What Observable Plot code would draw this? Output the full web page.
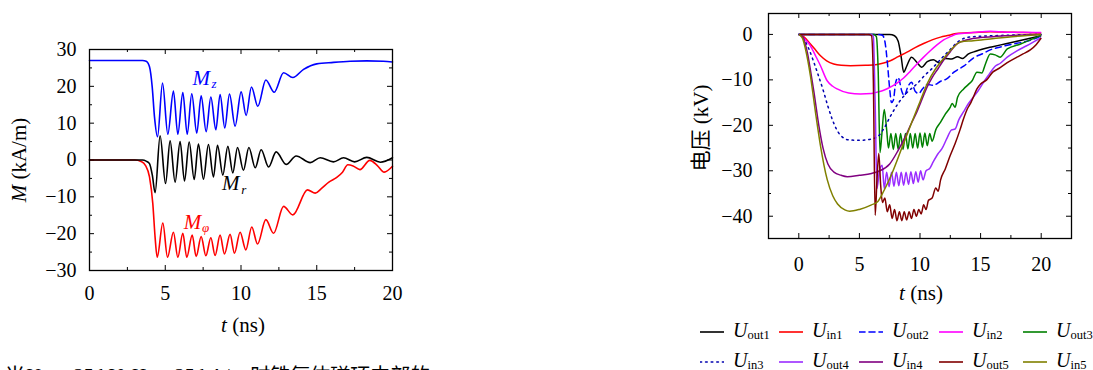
<!DOCTYPE html>
<html><head><meta charset="utf-8">
<script src="https://cdn.jsdelivr.net/npm/d3@7"></script>
<script src="https://cdn.jsdelivr.net/npm/@observablehq/plot@0.6"></script>
<style>
html,body{margin:0;padding:0;background:#fff;}
body{width:1093px;height:370px;overflow:hidden;position:relative;font-family:"Liberation Serif","DejaVu Serif",serif;color:#000;}
.abs{position:absolute;}
.lab{position:absolute;white-space:nowrap;font-size:21px;line-height:22px;}
.rot{transform:translate(-50%,-50%) rotate(-90deg);}
.ctr{transform:translate(-50%,-50%);}
.cjk{font-family:"Noto Sans CJK SC",sans-serif;}
.leg{position:absolute;white-space:nowrap;font-size:20px;line-height:22px;display:flex;align-items:center;}
.leg svg{margin-right:9px;}
.leg sub{font-size:12.5px;font-style:normal;position:relative;top:2px;vertical-align:baseline;}
</style></head><body>
<div id="left" class="abs" style="left:0;top:0"></div>
<div id="right" class="abs" style="left:690px;top:0"></div>
<div class="lab rot" style="left:19px;top:160px"><i>M</i> (kA/m)</div>
<div class="lab ctr" style="left:243px;top:325px"><i>t</i> (ns)</div>
<div class="lab rot" style="left:700px;top:128px"><span class="cjk">电压</span> (kV)</div>
<div class="lab ctr" style="left:921px;top:293px"><i>t</i> (ns)</div>
<div class="lab" style="left:5px;top:364px;font-size:20px"><span class="cjk">当</span><i>U</i><sub>in</sub> = 25 kV, <i>H</i><sub>0</sub> = 25 kA/m <span class="cjk">时铁氧体磁环中部的</span></div>
<div id="legend"></div>
<script>
// ---------------- Left chart data: M (kA/m) vs t (ns) ----------------
const Mz = [[0,27],[3.5,27],[3.74,26.8],[3.96,25.3],[4.14,19.8],[4.29,11.7],[4.49,6.3],
 [4.82,20.9],[5.17,7.0],[5.54,18.7],[5.83,7.0],[6.16,18.3],[6.45,7.0],[6.75,18.0],[7.08,7.3],
 [7.37,17.4],[7.70,7.7],[8.01,17.1],[8.34,8.2],[8.62,17.8],[8.93,8.7],[9.24,17.9],[9.61,9.2],
 [10.01,18.5],[10.34,12.1],[10.69,19.8],[11.11,14.6],[11.64,21.7],[12.19,18.4],[12.81,23.7],
 [13.42,22.4],[14.13,24.6],[15.0,26.1],[16.1,26.5],[17.2,26.8],[18.3,26.9],[19.4,26.8],[20,26.6]];
const Mr = [[0,0],[3.5,0],[3.74,-0.3],[3.96,-1.0],[4.15,-4.2],[4.33,-8.9],
 [4.66,6.6],[5.02,-6.4],[5.32,5.2],[5.65,-6.0],[5.98,5.0],[6.27,-5.7],[6.58,4.9],[6.91,-5.3],
 [7.19,4.3],[7.52,-5.2],[7.85,4.2],[8.18,-4.6],[8.45,4.0],[8.80,-4.1],[9.13,3.7],[9.46,-3.5],
 [9.77,3.4],[10.16,-2.8],[10.52,3.4],[10.94,-2.1],[11.33,2.8],[11.82,-1.9],[12.32,2.2],
 [12.98,-1.2],[13.64,1.1],[14.57,-0.7],[15.23,0.6],[16.1,-0.5],[16.77,0.6],[17.5,-0.5],
 [18.3,0.7],[19.2,-0.6],[20,0.6]];
const Mphi = [[0,0],[3.0,0],[3.4,-0.4],[3.7,-1.5],[3.96,-4.6],[4.18,-11.9],[4.33,-21],[4.47,-26.4],
 [4.84,-17.1],[5.15,-26.4],[5.54,-19.6],[5.83,-26.4],[6.16,-19.9],[6.42,-26.4],[6.78,-20.4],
 [7.04,-26.2],[7.37,-20.8],[7.68,-26.0],[8.01,-21.1],[8.29,-25.9],[8.62,-20.4],[8.91,-25.5],
 [9.28,-20.2],[9.57,-25.3],[9.94,-19.6],[10.32,-24.4],[10.71,-18.2],[11.09,-22.8],[11.64,-16.2],
 [12.15,-19.9],[12.81,-12.6],[13.42,-14.9],[14.39,-8.1],[14.9,-9.0],[15.3,-7.8],[15.8,-6.0],
 [16.3,-4.8],[16.7,-3.3],[17.05,-1.3],[17.4,-1.6],[17.85,-2.6],[18.5,-0.1],[19.0,-1.5],[19.45,-3.3],[20,-1.7]];
const mLabelT = [7.37, 9.33, 6.8];
const mLabelV = [22.3, -6.4, -16.8];
const mLabelSub = ["z", "r", "φ"];
const mLabelColor = ["#0000ff", "#000000", "#ff0000"];
const leftXTicks = [0, 5, 10, 15, 20];
const leftYTicks = [-30, -20, -10, 0, 10, 20, 30];

// ---------------- Right chart data: voltage (kV) vs t (ns) ----------------
const Uout1 = [[0,0],[7.5,0],[7.9,-0.3],[8.2,-1.5],[8.45,-5],[8.65,-8.3],[8.9,-7],[9.3,-5.0],[9.7,-6],
 [10.15,-7.2],[10.6,-6.0],[11.1,-5.6],[11.6,-6.3],[12.1,-5.3],[12.6,-5.4],[13.1,-4.9],[13.5,-5.3],
 [14.0,-4.3],[14.6,-3.7],[15.2,-3.2],[16,-2.7],[17,-2.1],[18,-1.5],[19,-0.9],[20,-0.3]];
const Uin1 = [[0,0],[0.4,-0.5],[0.96,-2.1],[1.4,-3.5],[1.79,-4.7],[2.3,-5.8],[2.88,-6.5],[3.5,-6.8],
 [4.26,-6.9],[5.5,-6.8],[6.46,-6.6],[7.0,-6.3],[7.55,-5.8],[8.2,-4.9],[8.93,-3.9],[9.6,-2.9],
 [10.3,-2.0],[11.0,-1.2],[11.7,-0.6],[12.4,-0.2],[13.0,0.2],[14.4,0.4],[15.8,0.6],[17.2,0.5],[18.5,0.4],[20,0.3]];
const Uout2 = [[0,0],[6.5,0],[6.9,-0.2],[7.1,-1.5],[7.3,-6],[7.5,-12],[7.65,-15],[7.8,-14.5],[8.0,-10.5],
 [8.2,-9.5],[8.5,-12.5],[8.7,-13.5],[9.0,-11.5],[9.3,-10.5],[9.6,-12.5],[9.9,-13],[10.2,-12],[10.6,-11],
 [11.1,-11.2],[11.7,-10.3],[12.2,-9.8],[12.8,-8.3],[13.6,-7.0],[14.4,-5.2],[15.2,-4.2],[15.8,-3.4],
 [16.9,-2.6],[17.5,-2.2],[18.5,-1.7],[19.3,-1.1],[20,-0.3]];
const Uin2 = [[0,0],[0.4,-0.8],[0.96,-2.5],[1.4,-4.8],[1.79,-6.9],[2.34,-10.2],[2.8,-11.4],[3.16,-12.0],
 [4.12,-12.9],[5.09,-13.1],[6.0,-13.0],[6.46,-12.7],[7.0,-12.3],[7.55,-11.6],[8.1,-10.7],[8.65,-9.6],
 [9.2,-8.1],[9.75,-6.5],[10.3,-5.0],[10.85,-3.6],[11.4,-2.3],[11.95,-1.2],[12.5,-0.5],[13.05,0.1],
 [14.4,0.4],[15.8,0.7],[17.2,0.5],[18.5,0.5],[20,0.4]];
const Uout3 = [[0,0],[6.2,0],[6.4,-0.5],[6.55,-8],[6.7,-26],[6.85,-22],[7.05,-16.5],[7.25,-21],[7.4,-25],
 [7.6,-21.8],[7.8,-25.3],[8.0,-21.8],[8.2,-25.3],[8.4,-21.8],[8.6,-25.3],[8.8,-21.8],[9.0,-25.2],
 [9.2,-21.8],[9.4,-25.0],[9.6,-21.8],[9.8,-25],[10.0,-21.7],[10.2,-24.8],[10.4,-21.7],[10.6,-24.5],
 [10.8,-21.8],[11.0,-23.5],[11.3,-21],[11.7,-19.3],[12.1,-17.5],[12.5,-16],[12.65,-15.2],[12.9,-16],
 [13.1,-13.8],[13.6,-12],[14.0,-11],[14.3,-10.2],[14.7,-8.3],[15.1,-8.5],[15.4,-6.5],[15.8,-4.3],
 [16.2,-4.5],[16.6,-5.0],[17.2,-3.2],[18.3,-2.1],[19,-1.3],[20,-0.2]];
const Uin3 = [[0,0],[0.3,-0.6],[0.83,-3.2],[1.2,-5.8],[1.52,-8.3],[2.06,-12.7],[2.4,-15.8],[2.75,-18.6],
 [3.1,-20.8],[3.44,-22.2],[4.12,-23.2],[5.0,-23.3],[6.0,-23],[6.5,-22.5],[7.0,-20.8],[7.6,-17.8],
 [8.3,-14.8],[9.0,-12.6],[9.7,-11],[10.4,-9],[11.0,-7.5],[11.8,-5.2],[12.5,-3.3],[13.05,-1.8],
 [13.6,-0.9],[14.4,-0.5],[16,-0.3],[18,-0.1],[20,0]];
const Uout4 = [[0,0],[6.0,0],[6.15,-0.5],[6.3,-15],[6.45,-33.9],[6.65,-30],[6.88,-28.8],[7.05,-33.9],
 [7.25,-30.3],[7.45,-33.5],[7.65,-30.3],[7.85,-33.4],[8.05,-30.3],[8.25,-33.3],[8.45,-30.3],[8.65,-33.2],
 [8.85,-30.3],[9.05,-33],[9.25,-30.2],[9.45,-32.8],[9.65,-30.2],[9.85,-32.5],[10.05,-30],[10.25,-32],
 [10.5,-30.0],[10.8,-29.5],[11.1,-28],[11.5,-26.2],[11.8,-25.2],[12.2,-23],[12.6,-21],[12.9,-20.8],
 [13.2,-18.8],[13.6,-17],[14.0,-15.2],[14.4,-13.8],[14.8,-12.4],[15.3,-10.3],[15.7,-8.8],[16.2,-7],
 [16.6,-6.4],[17.2,-5.0],[18.0,-3.6],[18.8,-2.5],[20,-0.7]];
const Uin4 = [[0,0],[0.3,-0.5],[0.7,-3.9],[1.0,-8.5],[1.25,-12.7],[1.65,-20],[2.0,-25],[2.4,-28.5],
 [2.9,-30.3],[3.5,-31],[4.0,-31.3],[5.0,-31],[6.0,-30.6],[6.6,-30.1],[7.5,-28.5],[8.2,-25.5],
 [8.7,-23],[9.3,-19.5],[9.75,-17],[10.1,-14.7],[10.6,-11.5],[11.0,-9.5],[11.5,-7.5],[12.0,-5.5],
 [12.5,-3.8],[13.0,-2.2],[13.5,-1.5],[14.0,-1.1],[15,-0.7],[16,-0.5],[17,-0.3],[18,-0.2],[20,0]];
const Uout5 = [[0,0],[5.8,0],[6.0,-0.3],[6.15,-10],[6.3,-39.8],[6.45,-32],[6.6,-26.2],[6.75,-33],
 [6.9,-37],[7.1,-36],[7.3,-39],[7.5,-37.5],[7.7,-40.5],[7.9,-38.5],[8.1,-41],[8.3,-39],[8.5,-41],
 [8.7,-39],[8.9,-40.8],[9.1,-39],[9.3,-40.5],[9.5,-38.5],[9.7,-40],[9.9,-38.5],[10.1,-39.5],
 [10.3,-37.5],[10.5,-38.5],[10.7,-36.5],[11.0,-36],[11.3,-33.8],[11.5,-34.5],[11.7,-32],[12.1,-29.5],
 [12.5,-26.6],[12.9,-24],[13.3,-21],[13.6,-18.5],[13.9,-16.4],[14.2,-15],[14.4,-13.8],[14.7,-12],
 [15.0,-10.9],[15.5,-10],[16.0,-8.3],[16.5,-7.5],[17.2,-6.2],[18.0,-5],[18.5,-4.3],[19.1,-3.4],
 [19.6,-2.2],[20,-0.8]];
const Uin5 = [[0,0],[0.3,-0.8],[0.55,-3.2],[0.96,-9.1],[1.38,-17.2],[1.79,-24.5],[2.34,-31.9],
 [2.8,-35.5],[3.2,-37.3],[3.8,-38.6],[4.2,-38.9],[5.0,-38.5],[6.0,-37.5],[6.5,-36.8],[7.0,-34.5],
 [7.7,-30.5],[8.5,-25],[9.3,-19.5],[10.0,-14.8],[10.6,-10.8],[11.3,-7.5],[12.1,-4.8],[12.7,-3.0],
 [13.1,-2.0],[13.4,-1.6],[14.4,-1.4],[15.8,-1.0],[17.2,-0.6],[20,0]];
const uNames = ["out1","in1","out2","in2","out3","in3","out4","in4","out5","in5"];
const uSeries = [Uout1, Uin1, Uout2, Uin2, Uout3, Uin3, Uout4, Uin4, Uout5, Uin5];
const rightXTicks = [0, 5, 10, 15, 20];
const rightYTicks = [-40, -30, -20, -10, 0];

// ---------------- styles ----------------
const uColors = ["#000000","#ff0000","#0000ff","#ff00ff","#008000","#0000b0","#9a2cff","#800080","#800000","#808000"];
const uDash = [null,null,"6,4",null,null,"1.6,4",null,null,null,null];
const font = "'Liberation Serif','DejaVu Serif',serif";
const fmt = d => d < 0 ? "\u2212" + Math.abs(d) : String(d);

function frameTicks(xMajor, xMinor, yMajor, yMinor, ih, iw) {
  const L = 5, l = 3;
  return [
    Plot.tickX(xMajor, {x: d => d, insetTop: ih - L, stroke: "black"}),
    Plot.tickX(xMajor, {x: d => d, insetBottom: ih - L, stroke: "black"}),
    Plot.tickX(xMinor, {x: d => d, insetTop: ih - l, stroke: "black"}),
    Plot.tickX(xMinor, {x: d => d, insetBottom: ih - l, stroke: "black"}),
    Plot.tickY(yMajor, {y: d => d, insetRight: iw - L, stroke: "black"}),
    Plot.tickY(yMajor, {y: d => d, insetLeft: iw - L, stroke: "black"}),
    Plot.tickY(yMinor, {y: d => d, insetRight: iw - l, stroke: "black"}),
    Plot.tickY(yMinor, {y: d => d, insetLeft: iw - l, stroke: "black"})
  ];
}
function tickLabels(xTicks, yTicks, xdy, ydx) {
  return [
    Plot.text(xTicks, {x: d => d, text: fmt, frameAnchor: "bottom", lineAnchor: "top", dy: xdy, fontSize: 20, fill: "black"}),
    Plot.text(yTicks, {y: d => d, text: fmt, frameAnchor: "left", textAnchor: "end", dx: -ydx, fontSize: 20, fill: "black"})
  ];
}

// ---------------- left chart ----------------
{
  const W = 400, H = 340, mL = 89, mR = 8, mT = 49, mB = 70;
  const iw = W - mL - mR, ih = H - mT - mB;
  const lbl = mLabelT.map((t, i) => ({t, v: mLabelV[i], sub: mLabelSub[i], c: mLabelColor[i]}));
  const line = (d, c) => Plot.line(d, {x: p => p[0], y: p => p[1], stroke: c, strokeWidth: 1.6, curve: "monotone-x"});
  const chart = Plot.plot({
    width: W, height: H, marginLeft: mL, marginRight: mR, marginTop: mT, marginBottom: mB,
    style: {fontFamily: font, fontSize: "20px", background: "transparent", color: "black", overflow: "visible"},
    x: {domain: [0, 20], axis: null},
    y: {domain: [-30, 30], axis: null},
    marks: [
      ...frameTicks(leftXTicks, [2.5, 7.5, 12.5, 17.5], leftYTicks, [-25, -15, -5, 5, 15, 25], ih, iw),
      ...tickLabels(leftXTicks, leftYTicks, 15, 13),
      line(Mphi, "#ff0000"),
      line(Mr, "#000000"),
      line(Mz, "#0000ff"),
      Plot.text(lbl, {x: "t", y: "v", text: () => "M", fill: "c", fontStyle: "italic", fontSize: 21}),
      Plot.text(lbl, {x: "t", y: "v", text: "sub", fill: "c", fontStyle: "italic", fontSize: 13, dx: 13, dy: 6}),
      Plot.frame({stroke: "black", strokeWidth: 1.3})
    ]
  });
  document.getElementById("left").append(chart);
}

// ---------------- right chart ----------------
{
  const W = 403, H = 310, mL = 78, mR = 22, mT = 13, mB = 72;
  const iw = W - mL - mR, ih = H - mT - mB;
  const lines = uSeries.map((d, i) => Plot.line(d, {
    x: p => p[0], y: p => p[1], stroke: uColors[i], strokeWidth: 1.5,
    strokeDasharray: uDash[i] || undefined, strokeLinecap: uDash[i] ? "round" : "butt",
    curve: "monotone-x"}));
  const chart = Plot.plot({
    width: W, height: H, marginLeft: mL, marginRight: mR, marginTop: mT, marginBottom: mB,
    style: {fontFamily: font, fontSize: "20px", background: "transparent", color: "black", overflow: "visible"},
    x: {domain: [-2.5, 22.5], axis: null},
    y: {domain: [-44.9, 4.6], axis: null},
    marks: [
      ...frameTicks(rightXTicks, [2.5, 7.5, 12.5, 17.5], rightYTicks, [-35, -25, -15, -5], ih, iw),
      ...tickLabels(rightXTicks, rightYTicks, 18, 16),
      ...lines,
      Plot.frame({stroke: "black", strokeWidth: 1.3})
    ]
  });
  document.getElementById("right").append(chart);
}

// ---------------- legend ----------------
{
  const cols = [700, 779, 859, 939, 1023];
  const rows = [330, 360];
  const leg = document.getElementById("legend");
  uNames.forEach((n, i) => {
    const div = document.createElement("div");
    div.className = "leg";
    div.style.left = cols[i % 5] + "px";
    div.style.top = (rows[Math.floor(i / 5)] - 11) + "px";
    const dash = uDash[i] ? `stroke-dasharray="${uDash[i]}" stroke-linecap="round"` : "";
    div.innerHTML = `<svg width="24" height="10"><line x1="0" y1="5" x2="24" y2="5" stroke="${uColors[i]}" stroke-width="1.6" ${dash}/></svg><span><i>U</i><sub>${n}</sub></span>`;
    leg.append(div);
  });
}
</script>
</body></html>
